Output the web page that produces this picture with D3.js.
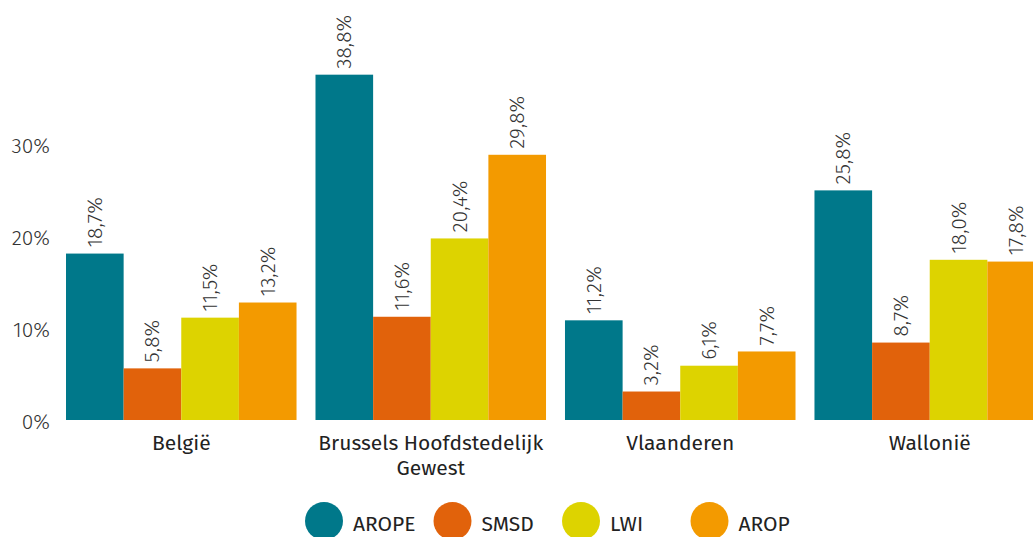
<!DOCTYPE html>
<html><head><meta charset="utf-8">
<script src="https://cdn.jsdelivr.net/npm/d3@7"></script>
<style>
html,body{margin:0;padding:0;background:#fff;overflow:hidden}
svg{display:block}
text{font-family:"Fira Sans","Open Sans","Noto Sans",sans-serif}
</style></head>
<body>
<svg id="chart" width="1033" height="537"></svg>
<script>
const categories = ["België", "Brussels Hoofdstedelijk Gewest", "Vlaanderen", "Wallonië"];
const seriesNames = ["AROPE", "SMSD", "LWI", "AROP"];
const seriesColors = ["#00788a", "#e1620b", "#ddd300", "#f39a00"];
const AROPE = [18.7, 38.8, 11.2, 25.8];
const SMSD = [5.8, 11.6, 3.2, 8.7];
const LWI = [11.5, 20.4, 6.1, 18.0];
const AROP = [13.2, 29.8, 7.7, 17.8];
const tickValues = [0, 10, 20, 30];
const tickLabels = ["0%", "10%", "20%", "30%"];

const series = [AROPE, SMSD, LWI, AROP];
const svg = d3.select("#chart");

const x0 = d3.scaleBand().domain(categories).range([66, 1045]).paddingInner(0.076).paddingOuter(0);
const x1 = d3.scaleBand().domain(seriesNames).range([0, x0.bandwidth()]).padding(0);
const y = d3.scaleLinear().domain([0, 40]).range([420, 64]);
const yTicks = d3.scaleLinear().domain([0, 30]).range([421.5, 145]);

// y axis labels
const yAxis = d3.axisLeft(yTicks).tickValues(tickValues).tickFormat((d, i) => tickLabels[i]).tickSize(0).tickPadding(0);
const ga = svg.append("g").attr("transform", "translate(50,0)").call(yAxis);
ga.select(".domain").remove();
ga.selectAll("text").attr("font-size", 21).attr("font-weight", 300).attr("fill", "#333").attr("dy", "0.35em")
  .style("font-family", '"Fira Sans","Open Sans","Noto Sans",sans-serif');

// bars
categories.forEach((c, ci) => {
  const g = svg.append("g").attr("transform", `translate(${x0(c)},0)`);
  seriesNames.forEach((s, si) => {
    const v = series[si][ci];
    g.append("rect")
      .attr("x", x1(s)).attr("width", x1.bandwidth())
      .attr("y", y(v)).attr("height", y(0) - y(v))
      .attr("fill", seriesColors[si]);
    const cx = x1(s) + x1.bandwidth() / 2;
    const ty = y(v) - 6;
    g.append("text")
      .attr("transform", `translate(${cx},${ty}) rotate(-90)`)
      .attr("text-anchor", "start")
      .attr("dominant-baseline", "central")
      .attr("font-size", 21).attr("font-weight", 300)
      .attr("fill", "#333")
      .text(d3.format(".1f")(v).replace(".", ",") + "%");
  });
});

// x axis labels
const xLabelLines = { "Brussels Hoofdstedelijk Gewest": ["Brussels Hoofdstedelijk", "Gewest"] };
categories.forEach(c => {
  const lines = xLabelLines[c] || [c];
  const t = svg.append("text")
    .attr("x", x0(c) + x0.bandwidth() / 2)
    .attr("y", 449.5)
    .attr("text-anchor", "middle")
    .attr("font-size", 21).attr("fill", "#222");
  lines.forEach((l, i) => {
    t.append("tspan").attr("x", x0(c) + x0.bandwidth() / 2).attr("dy", i === 0 ? 0 : 25.5).text(l);
  });
});

// legend
const legendX = d3.scaleLinear().domain([0, 3]).range([324, 709.5]);
seriesNames.forEach((s, i) => {
  const lx = legendX(i);
  svg.append("circle").attr("cx", lx).attr("cy", 521).attr("r", 19).attr("fill", seriesColors[i]);
  svg.append("text").attr("x", lx + 29).attr("y", 525).attr("dominant-baseline", "central")
    .attr("dy", "-0.05em")
    .attr("font-size", 21).attr("fill", "#222").text(s);
});
</script>
</body></html>
